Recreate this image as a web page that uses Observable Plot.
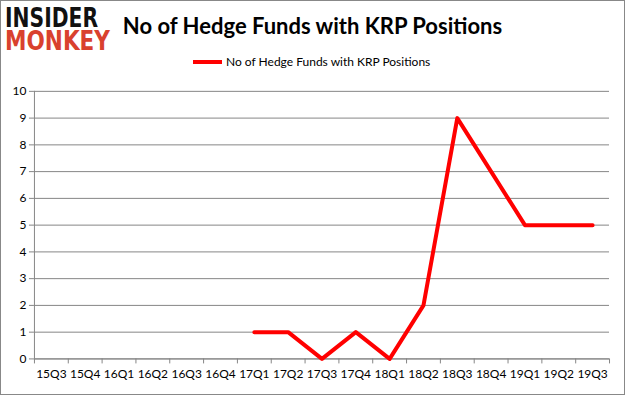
<!DOCTYPE html>
<html>
<head>
<meta charset="utf-8">
<script src="https://cdn.jsdelivr.net/npm/d3@7"></script>
<script src="https://cdn.jsdelivr.net/npm/@observablehq/plot@0.6"></script>
<style>
  html, body { margin: 0; padding: 0; background: #fff; }
  #frame { position: relative; width: 623px; height: 393px; border: 1px solid #888; overflow: hidden; font-family: Lato, "Open Sans", sans-serif; }
  #chart { position: absolute; left: -1px; top: -1px; }
  #logo { position: absolute; left: -1px; top: -1px; overflow: visible; }
  #title { position: absolute; left: 0; width: 623px; top: 11px; text-align: center; font-weight: bold; font-size: 22px; }
  #legend { position: absolute; top: 53px; left: 192px; font-size: 12px; display: flex; align-items: center; }
  #legend .sw { width: 29px; height: 4px; background: #ff0000; margin-right: 4px; }
</style>
</head>
<body>
<div id="frame">
  <div id="chart"></div>
  <svg id="logo" width="160" height="64" style="font-family:'DejaVu Sans',sans-serif;font-weight:900;font-size:24px">
    <text x="5" y="27" fill="#111" textLength="93" lengthAdjust="spacingAndGlyphs" transform="translate(0,27) scale(1,1.08) translate(0,-27)">INSIDER</text>
    <text x="5" y="50" fill="#d9412e" textLength="105" lengthAdjust="spacingAndGlyphs" transform="translate(0,50) scale(1,1.08) translate(0,-50)">MONKEY</text>
  </svg>
  <div id="title">No of Hedge Funds with KRP Positions</div>
  <div id="legend"><div class="sw"></div><span>No of Hedge Funds with KRP Positions</span></div>
</div>
<script>
const categories = ["15Q3","15Q4","16Q1","16Q2","16Q3","16Q4","17Q1","17Q2","17Q3","17Q4","18Q1","18Q2","18Q3","18Q4","19Q1","19Q2","19Q3"];
const values = [null,null,null,null,null,null,1,1,0,1,0,2,9,7,5,5,5];
const yTicks = [0,1,2,3,4,5,6,7,8,9,10];
const seriesName = "No of Hedge Funds with KRP Positions";

const data = categories.map((c, i) => ({pos: i + 0.5, cat: c, v: values[i]})).filter(d => d.v != null);
const boundaries = d3.range(categories.length + 1);
const centers = categories.map((c, i) => i + 0.5);
const grey = "#868686";

const plot = Plot.plot({
  width: 625,
  height: 395,
  marginTop: 91,
  marginBottom: 36,
  marginLeft: 34,
  marginRight: 15,
  style: {fontFamily: "Lato, 'Open Sans', sans-serif", fontSize: "12px", color: "#000", background: "transparent"},
  x: {type: "linear", domain: [0, categories.length], label: null},
  y: {domain: [0, 10], label: null},
  marks: [
    Plot.gridY(yTicks, {stroke: grey, strokeOpacity: 1}),
    Plot.ruleX([0], {stroke: grey}),
    Plot.axisY({ticks: yTicks, tickSize: 5, tickPadding: 3, stroke: grey, strokeOpacity: 1, fill: "#000", label: null, fontSize: 12}),
    Plot.axisX({ticks: boundaries, tickSize: 5, tickFormat: () => "", stroke: grey, strokeOpacity: 1, label: null}),
    Plot.axisX({ticks: centers, tickSize: 0, tickPadding: 11, tickFormat: d => categories[Math.round(d - 0.5)], fill: "#000", label: null, fontSize: 12}),
    Plot.ruleY([0], {stroke: grey}),
    Plot.line(data, {x: "pos", y: "v", stroke: "#ff0000", strokeWidth: 4, strokeLinejoin: "round", strokeLinecap: "round"})
  ]
});
document.getElementById("chart").appendChild(plot);
</script>
</body>
</html>
